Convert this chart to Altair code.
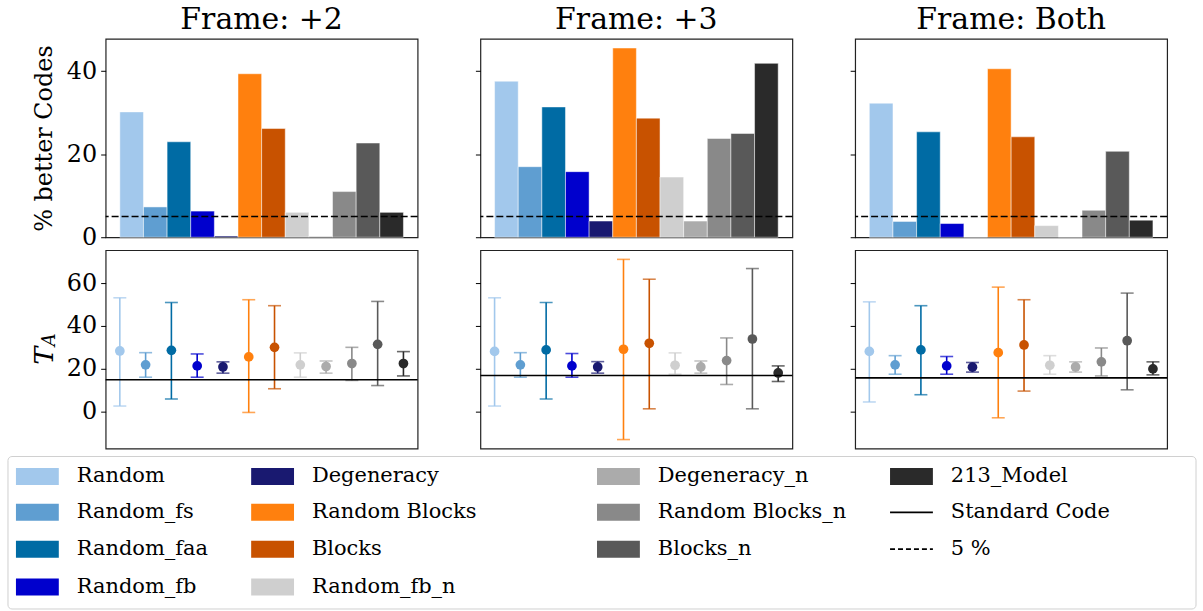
import altair as alt
import pandas as pd

labels = ["Random", "Random_fs", "Random_faa", "Random_fb", "Degeneracy",
          "Random Blocks", "Blocks", "Random_fb_n", "Degeneracy_n",
          "Random Blocks_n", "Blocks_n", "213_Model"]
colors = ["#A2C8EC", "#5F9ED1", "#006BA4", "#0000CD", "#191970",
          "#FF800E", "#C85200", "#CFCFCF", "#ABABAB",
          "#898989", "#595959", "#2A2A2A"]
frames = ["Frame: +2", "Frame: +3", "Frame: Both"]

# % better codes (top row)
better_p2 = [30.2, 7.3, 23.0, 6.3, 0.3, 39.4, 26.2, 6.0, 0.2, 11.0, 22.7, 6.0]
better_p3 = [37.6, 17.0, 31.4, 15.8, 3.9, 45.6, 28.7, 14.5, 3.9, 23.8, 25.0, 41.9]
better_both = [32.3, 3.8, 25.4, 3.3, 0.0, 40.6, 24.2, 2.8, 0.0, 6.5, 20.7, 4.1]

# T_A mean and error bar ends (bottom row)
ta_mean_p2 = [28.3, 21.8, 28.6, 21.3, 20.8, 25.5, 30.0, 21.8, 21.0, 22.4, 31.4, 22.4]
ta_low_p2 = [2.5, 16.0, 5.8, 16.0, 17.9, -0.5, 10.6, 16.0, 17.9, 14.5, 12.1, 16.6]
ta_high_p2 = [53.2, 27.5, 51.0, 26.9, 23.2, 52.3, 49.5, 27.4, 23.6, 30.0, 51.5, 28.0]

ta_mean_p3 = [28.1, 21.8, 28.8, 21.3, 20.8, 29.1, 31.9, 21.6, 20.8, 23.8, 33.9, 18.0]
ta_low_p3 = [2.5, 16.0, 5.8, 16.0, 17.9, -13.2, 1.2, 17.4, 17.9, 12.6, 1.2, 14.0]
ta_high_p3 = [53.2, 27.5, 51.0, 27.1, 23.3, 71.2, 61.9, 27.4, 23.6, 34.4, 66.9, 21.3]

ta_mean_both = [28.1, 21.8, 28.8, 21.3, 20.7, 27.5, 31.1, 21.6, 20.8, 23.2, 33.1, 19.9]
ta_low_both = [4.4, 17.4, 7.8, 17.4, 18.4, -3.0, 9.5, 17.4, 18.4, 16.6, 10.1, 17.1]
ta_high_both = [51.3, 26.1, 49.5, 25.7, 22.9, 58.2, 52.3, 26.1, 23.2, 29.7, 55.4, 23.2]

standard_code = [14.8, 16.8, 15.7]
threshold = [5, 5, 5]

better = [better_p2, better_p3, better_both]
ta_mean = [ta_mean_p2, ta_mean_p3, ta_mean_both]
ta_low = [ta_low_p2, ta_low_p3, ta_low_both]
ta_high = [ta_high_p2, ta_high_p3, ta_high_both]

FONT = "DejaVu Serif"
W, H = 313, 199
LEFT_EXT = 98
color_scale = alt.Scale(domain=labels, range=colors)


def spacer():
    # white, invisible block so that the left-most panels reach as far left as the legend box
    return alt.Chart(pd.DataFrame({"a": [0]})).mark_rect(fill="white").encode(
        x=alt.value(-LEFT_EXT), x2=alt.value(-LEFT_EXT + 1), y=alt.value(100), y2=alt.value(101))


def top_panel(i):
    df = pd.DataFrame({"label": labels, "value": better[i]})
    x = alt.X("label:N", sort=labels,
              scale=alt.Scale(paddingInner=0, paddingOuter=0.6), axis=None)
    yax = alt.Axis(values=[0, 20, 40], labels=(i == 0),
                   title="% better Codes" if i == 0 else "")
    bars = alt.Chart(df).mark_bar(stroke="white", strokeWidth=0.6, strokeOpacity=0.8).encode(
        x=x,
        y=alt.Y("value:Q", scale=alt.Scale(domain=[0, 47.8], nice=False), axis=yax),
        color=alt.Color("label:N", scale=color_scale, legend=None),
    )
    rule = alt.Chart(pd.DataFrame({"y": [threshold[i]]})).mark_rule(
        color="black", strokeWidth=1.5, strokeDash=[7, 3]).encode(y="y:Q")
    layers = [bars, rule]
    if i == 0:
        layers.append(spacer())
    return alt.layer(*layers).properties(
        width=W, height=H,
        title=alt.TitleParams(frames[i], font=FONT, fontSize=30, fontWeight="normal",
                              color="black", offset=4))


def bottom_panel(i):
    df = pd.DataFrame({"label": labels, "mean": ta_mean[i],
                       "low": ta_low[i], "high": ta_high[i]})
    x = alt.X("label:N", sort=labels, scale=alt.Scale(type="point", padding=0.55), axis=None)
    ysc = alt.Scale(domain=[-17.4, 75.5], nice=False, zero=False)
    yax = alt.Axis(values=[0, 20, 40, 60], labels=(i == 0), title="")
    col = alt.Color("label:N", scale=color_scale, legend=None)
    base = alt.Chart(df)
    bars = base.mark_rule(strokeWidth=1.6).encode(
        x=x, y=alt.Y("low:Q", scale=ysc, axis=yax), y2="high:Q", color=col)
    cap_lo = base.mark_tick(size=13, thickness=1.6).encode(x=x, y=alt.Y("low:Q"), color=col)
    cap_hi = base.mark_tick(size=13, thickness=1.6).encode(x=x, y=alt.Y("high:Q"), color=col)
    pts = base.mark_circle(size=95, opacity=1).encode(x=x, y=alt.Y("mean:Q"), color=col)
    std = alt.Chart(pd.DataFrame({"y": [standard_code[i]]})).mark_rule(
        color="black", strokeWidth=1.6).encode(y="y:Q")
    layers = [bars, cap_lo, cap_hi, pts, std]
    if i == 0:
        tt = alt.Chart(pd.DataFrame({"t": ["T"]})).mark_text(
            font=FONT, fontSize=27, fontStyle="italic", angle=270, color="black").encode(
            text="t:N", x=alt.value(-61), y=alt.value(106))
        ta = alt.Chart(pd.DataFrame({"t": ["A"]})).mark_text(
            font=FONT, fontSize=18, fontStyle="italic", angle=270, color="black").encode(
            text="t:N", x=alt.value(-56), y=alt.value(90))
        layers += [tt, ta, spacer()]
    return alt.layer(*layers).properties(width=W, height=H)


# legend (matplotlib-style, column-major, 4 columns)
leg_labels = labels + ["Standard Code", "5 %"]
leg_kinds = ["rect"] * 12 + ["solid", "dashed"]
leg_colors = colors + ["black", "black"]
col_sizes = [4, 4, 3, 3]
col_x = [-90, 146, 493, 787]
row_y = [20, 56, 93, 131]
rows = []
k = 0
for c, n in enumerate(col_sizes):
    for r in range(n):
        rows.append({"label": leg_labels[k], "kind": leg_kinds[k], "color": leg_colors[k],
                     "sx": col_x[c], "sx2": col_x[c] + 43, "tx": col_x[c] + 61,
                     "ty": row_y[r], "sy": row_y[r] - 8.5, "sy2": row_y[r] + 8.5})
        k += 1
leg = pd.DataFrame(rows)

box = alt.Chart(pd.DataFrame({"a": [0]})).mark_rect(
    fill="white", stroke="#d0d0d0", strokeWidth=1, cornerRadius=4).encode(
    x=alt.value(-LEFT_EXT), x2=alt.value(1094), y=alt.value(0), y2=alt.value(153))
sw = alt.Chart(leg).transform_filter("datum.kind == 'rect'").mark_rect().encode(
    x=alt.X("sx:Q", scale=None), x2="sx2:Q",
    y=alt.Y("sy:Q", scale=None), y2="sy2:Q",
    color=alt.Color("color:N", scale=None))
ln_solid = alt.Chart(leg).transform_filter("datum.kind == 'solid'").mark_rule(
    strokeWidth=1.8, color="black").encode(
    x=alt.X("sx:Q", scale=None), x2="sx2:Q", y=alt.Y("ty:Q", scale=None))
ln_dash = alt.Chart(leg).transform_filter("datum.kind == 'dashed'").mark_rule(
    strokeWidth=1.8, color="black", strokeDash=[5, 3]).encode(
    x=alt.X("sx:Q", scale=None), x2="sx2:Q", y=alt.Y("ty:Q", scale=None))
txt = alt.Chart(leg).mark_text(align="left", baseline="middle", font=FONT,
                               fontSize=21, color="black").encode(
    x=alt.X("tx:Q", scale=None), y=alt.Y("ty:Q", scale=None), text="label:N")
legend = alt.layer(box, sw, ln_solid, ln_dash, txt).properties(
    width=3 * W + 2 * 61, height=153, view=alt.ViewBackground(stroke="transparent"))

top_row = alt.hconcat(*[top_panel(i) for i in range(3)], spacing=54)
bot_row = alt.hconcat(*[bottom_panel(i) for i in range(3)], spacing=54)
grid = alt.vconcat(top_row, bot_row, spacing=-1)

chart = alt.vconcat(grid, legend, spacing=5).properties(
    padding={"left": 6, "right": 5, "top": 3, "bottom": 1}
).configure_view(stroke="#222222", strokeWidth=1.2).configure_axis(
    labelFont=FONT, labelFontSize=24, labelColor="black",
    titleFont=FONT, titleFontSize=24, titleFontWeight="normal", titleColor="black",
    titlePadding=10, grid=False, domain=False, tickColor="black", tickSize=5,
    tickWidth=1, labelPadding=4)

chart.save("out.html", embed_options={"renderer": "svg", "actions": False})
